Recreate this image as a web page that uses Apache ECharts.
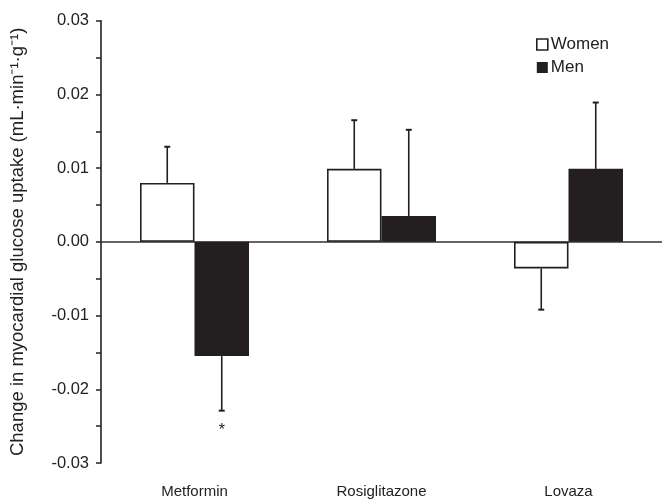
<!DOCTYPE html>
<html><head><meta charset="utf-8">
<script src="https://cdn.jsdelivr.net/npm/echarts@6/dist/echarts.min.js"></script>
<style>html,body{margin:0;padding:0;background:#fff}#c{width:662px;height:500px}</style>
</head><body><div id="c"></div>
<script>
const categories = ['Metformin', 'Rosiglitazone', 'Lovaza'];
const women = [0.0080, 0.0099, -0.0036];
const womenErrTip = [0.0129, 0.0165, -0.0092];
const men = [-0.0155, 0.0035, 0.0099];
const menErrTip = [-0.0229, 0.0152, 0.0189];
const menSig = ['*', '', ''];
const yTicks = [-0.03, -0.02, -0.01, 0.00, 0.01, 0.02, 0.03];

const BW = 54.5;
const dark = '#231f20';
const chart = echarts.init(document.getElementById('c'));

function errSeries(name, vals, tips, offset, sig) {
  return {
    name: name + ' err', type: 'custom', xAxisIndex: 0, yAxisIndex: 0, z: 1,
    silent: true,
    data: vals.map((v, i) => [i, v, tips[i], sig ? sig[i] : '']),
    renderItem: function (params, api) {
      const base = api.coord([api.value(0), api.value(1)]);
      const tip = api.coord([api.value(0), api.value(2)]);
      const x = base[0] + offset;
      const children = [
        {type: 'line', shape: {x1: x, y1: base[1], x2: x, y2: tip[1]}, style: {stroke: dark, lineWidth: 1.6}},
        {type: 'line', shape: {x1: x - 3, y1: tip[1], x2: x + 3, y2: tip[1]}, style: {stroke: dark, lineWidth: 2}}
      ];
      const s = api.value(3);
      if (s) {
        children.push({type: 'text', x: x, y: tip[1] + 20, style: {text: s, fill: '#222', font: '16px "Liberation Sans", Arial', align: 'center', verticalAlign: 'middle'}});
      }
      return {type: 'group', children: children};
    }
  };
}

chart.setOption({
  animation: false,
  backgroundColor: '#fff',
  textStyle: {fontFamily: '"Liberation Sans", Arial, sans-serif'},
  grid: {left: 101, right: -6, top: 20.7, bottom: 37},
  legend: {
    orient: 'vertical', left: 531, top: 31, itemGap: 6,
    itemWidth: 11, itemHeight: 11,
    textStyle: {fontSize: 17, color: '#222', padding: [0, 0, 0, -2]},
    data: [
      {name: 'Women', icon: 'rect', itemStyle: {color: '#fff', borderColor: dark, borderWidth: 1.6}},
      {name: 'Men', icon: 'rect', itemStyle: {color: dark}}
    ]
  },
  xAxis: [
    {type: 'category', data: categories, axisLine: {onZero: true, lineStyle: {color: '#333', width: 1.5}},
     axisTick: {show: false}, axisLabel: {show: false}},
    {type: 'category', data: categories, position: 'bottom', axisLine: {show: false, onZero: false},
     axisTick: {show: false}, axisLabel: {margin: 21, fontSize: 15, color: '#222'}}
  ],
  yAxis: {
    type: 'value', min: -0.03, max: 0.03, interval: 0.01,
    name: 'Change in myocardial glucose uptake (mL·min\u207B\u00B9·g\u207B\u00B9)',
    nameLocation: 'middle', nameGap: 74, nameRotate: 90,
    nameTextStyle: {fontSize: 18.5, color: '#222'},
    axisLine: {show: true, lineStyle: {color: '#222', width: 1.6}},
    axisTick: {show: true, length: 5, lineStyle: {color: '#222', width: 1.5}},
    minorTick: {show: true, splitNumber: 2, length: 5, lineStyle: {color: '#222', width: 1.5}},
    splitLine: {show: false},
    axisLabel: {fontSize: 16.5, color: '#222', margin: 12,
      formatter: v => { const t = yTicks.find(x => Math.abs(x - v) < 1e-9); return (t === undefined ? v : t).toFixed(2); }}
  },
  series: [
    {name: 'Women', type: 'bar', data: women, barWidth: BW, barGap: '0%', z: 2,
     itemStyle: {color: '#fff', borderColor: dark, borderWidth: 1.6}},
    {name: 'Men', type: 'bar', data: men, barWidth: BW, barGap: '0%', z: 2,
     itemStyle: {color: dark, borderColor: dark, borderWidth: 0}},
    errSeries('Women', women, womenErrTip, -BW / 2, null),
    errSeries('Men', men, menErrTip, BW / 2, menSig)
  ]
});
</script>
</body></html>
